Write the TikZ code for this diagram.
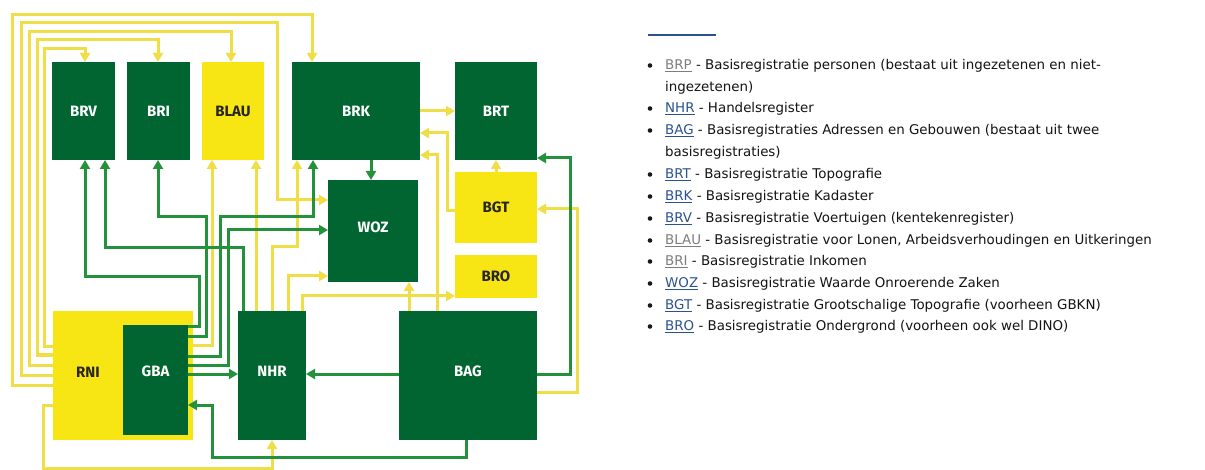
\documentclass[tikz,border=0pt]{standalone}
\usepackage{fontspec}
\setmainfont{DejaVu Sans}
\newfontfamily\boxfont{Fira Sans}
\usetikzlibrary{arrows.meta}

\definecolor{dgreen}{RGB}{0,101,48}
\definecolor{yfill}{RGB}{248,230,20}
\definecolor{gline}{RGB}{36,146,58}
\definecolor{yline}{RGB}{240,222,70}
\definecolor{lgray}{RGB}{125,125,125}
\definecolor{lblue}{RGB}{42,82,140}
\newcommand\regl[2]{\textcolor{#1}{\underline{#2}}}

\begin{document}
\begin{tikzpicture}[x=1pt, y=-1pt,
  box/.style={inner sep=0pt, outer sep=0pt, anchor=north west, font=\boxfont\bfseries\fontsize{15}{18}\selectfont},
  gbox/.style={box, fill=dgreen, text=white},
  ybox/.style={box, fill=yfill, text=black!85},
  link/.style={-{Triangle[length=9pt,width=10pt]}, line width=3pt},
  yl/.style={link, draw=yline},
  gl/.style={link, draw=gline},
  item/.style={anchor=base west, inner sep=0pt, font=\fontsize{13.4}{16}\selectfont, text=black!92}
]
\fill[white] (0,0) rectangle (1205,470);
\useasboundingbox (0,0) rectangle (1205,470);

% registers
\node[gbox, minimum width=63, minimum height=98] (brv) at (52,62) {BRV};
\node[gbox, minimum width=63, minimum height=98] (bri) at (127,62) {BRI};
\node[ybox, minimum width=62, minimum height=98] (blau) at (202,62) {BLAU};
\node[gbox, minimum width=128, minimum height=98] (brk) at (292,62) {BRK};
\node[gbox, minimum width=82, minimum height=98] (brt) at (455,62) {BRT};
\node[gbox, minimum width=90, minimum height=102, text depth=8pt] (woz) at (328,180) {WOZ};
\node[ybox, minimum width=82, minimum height=71] (bgt) at (455,172) {BGT};
\node[ybox, minimum width=82, minimum height=43] (bro) at (455,255) {BRO};
\node[gbox, minimum width=138, minimum height=129, text depth=9pt] (bag) at (399,311) {BAG};
\node[gbox, minimum width=68, minimum height=129, text depth=9pt] (nhr) at (238,311) {NHR};
\node[ybox, minimum width=140, minimum height=129] (rni) at (53,311) {};
\node[box, anchor=center, text=black!85] (rnilabel) at (88,372) {RNI};
\node[gbox, minimum width=65, minimum height=110, text depth=18pt] (gba) at (123,325) {GBA};

% yellow connectors
\draw[yl] (rni.west |- 0,385) -| (12,15) -| (brk.north -| 312,0);
\draw[yl] (rni.west |- 0,375) -| (21,23) -| (277,200) -- (woz.west |- 0,200);
\draw[yl] (rni.west |- 0,365) -| (29,32) -| (blau.north -| 231,0);
\draw[yl] (rni.west |- 0,355) -| (37,40) -| (bri.north -| 158,0);
\draw[yl] (rni.west |- 0,347) -| (44,49) -| (brv.north -| 85,0);
\draw[yl] (rni.east |- 0,346) -| (blau.south -| 212,0);
\draw[yl] (rni.west |- 0,405) -| (43,468) -| (nhr.south -| 272,0);
\draw[yl] (nhr.north -| 256,0) -- (blau.south -| 256,0);
\draw[yl] (nhr.north -| 272,0) |- (297,247) -- (brk.south -| 297,0);
\draw[yl] (nhr.north -| 288,0) |- (woz.west |- 0,276);
\draw[yl] (nhr.north -| 302,0) |- (bro.west |- 0,296);
\draw[yl] (bag.north -| 409,0) -- (woz.south -| 409,0);
\draw[yl] (bag.north -| 437,0) |- (brk.east |- 0,155);
\draw[yl] (bgt.west |- 0,211) -| (447,133) -- (brk.east |- 0,133);
\draw[yl] (brk.east |- 0,111) -- (brt.west |- 0,111);
\draw[yl] (bgt.north) -- (brt.south);
\draw[yl] (bag.east |- 0,392) -| (577,209) -- (bgt.east |- 0,209);

% green connectors
\draw[gl] (gba.east |- 0,327) -| (199,277) -| (brv.south -| 85,0);
\draw[gl] (gba.east |- 0,337) -| (206,217) -| (bri.south -| 158,0);
\draw[gl] (gba.east |- 0,356) -| (220,217) -| (brk.south -| 313,0);
\draw[gl] (gba.east |- 0,365) -| (228,230) -- (woz.west |- 0,230);
\draw[gl] (gba.east |- 0,374) -- (nhr.west |- 0,374);
\draw[gl] (nhr.north -| 243,0) |- (105,248) -- (brv.south -| 105,0);
\draw[gl] (brk.south -| 371,0) -- (woz.north -| 371,0);
\draw[gl] (bag.west |- 0,374) -- (nhr.east |- 0,374);
\draw[gl] (bag.south -| 466,0) |- (212,457) |- (gba.east |- 0,405);
\draw[gl] (bag.east |- 0,374) -| (570,158) -- (brt.east |- 0,158);

% legend
\draw[lblue, line width=1.2pt] (648,35) -- (716,35);
\foreach \y in {69.5,112.5,134.5,178.5,200.5,222.5,244.5,265.5,287.5,309.5,330.5}
  \fill[black!90] (650,\y-4) circle (2.3);
\node[item] (brpitem) at (665,69.5) {\regl{lgray}{BRP} - Basisregistratie personen (bestaat uit ingezetenen en niet-};
\node[item] (brpmore) at (665,91.5) {ingezetenen)};
\node[item] (nhritem) at (665,112.5) {\regl{lblue}{NHR} - Handelsregister};
\node[item] (bagitem) at (665,134.5) {\regl{lblue}{BAG} - Basisregistraties Adressen en Gebouwen (bestaat uit twee};
\node[item] (bagmore) at (665,156.5) {basisregistraties)};
\node[item] (brtitem) at (665,178.5) {\regl{lblue}{BRT} - Basisregistratie Topografie};
\node[item] (brkitem) at (665,200.5) {\regl{lblue}{BRK} - Basisregistratie Kadaster};
\node[item] (brvitem) at (665,222.5) {\regl{lblue}{BRV} - Basisregistratie Voertuigen (kentekenregister)};
\node[item] (blauitem) at (665,244.5) {\regl{lgray}{BLAU} - Basisregistratie voor Lonen, Arbeidsverhoudingen en Uitkeringen};
\node[item] (briitem) at (665,265.5) {\regl{lgray}{BRI} - Basisregistratie Inkomen};
\node[item] (wozitem) at (665,287.5) {\regl{lblue}{WOZ} - Basisregistratie Waarde Onroerende Zaken};
\node[item] (bgtitem) at (665,309.5) {\regl{lblue}{BGT} - Basisregistratie Grootschalige Topografie (voorheen GBKN)};
\node[item] (broitem) at (665,330.5) {\regl{lblue}{BRO} - Basisregistratie Ondergrond (voorheen ook wel DINO)};
\end{tikzpicture}
\end{document}
